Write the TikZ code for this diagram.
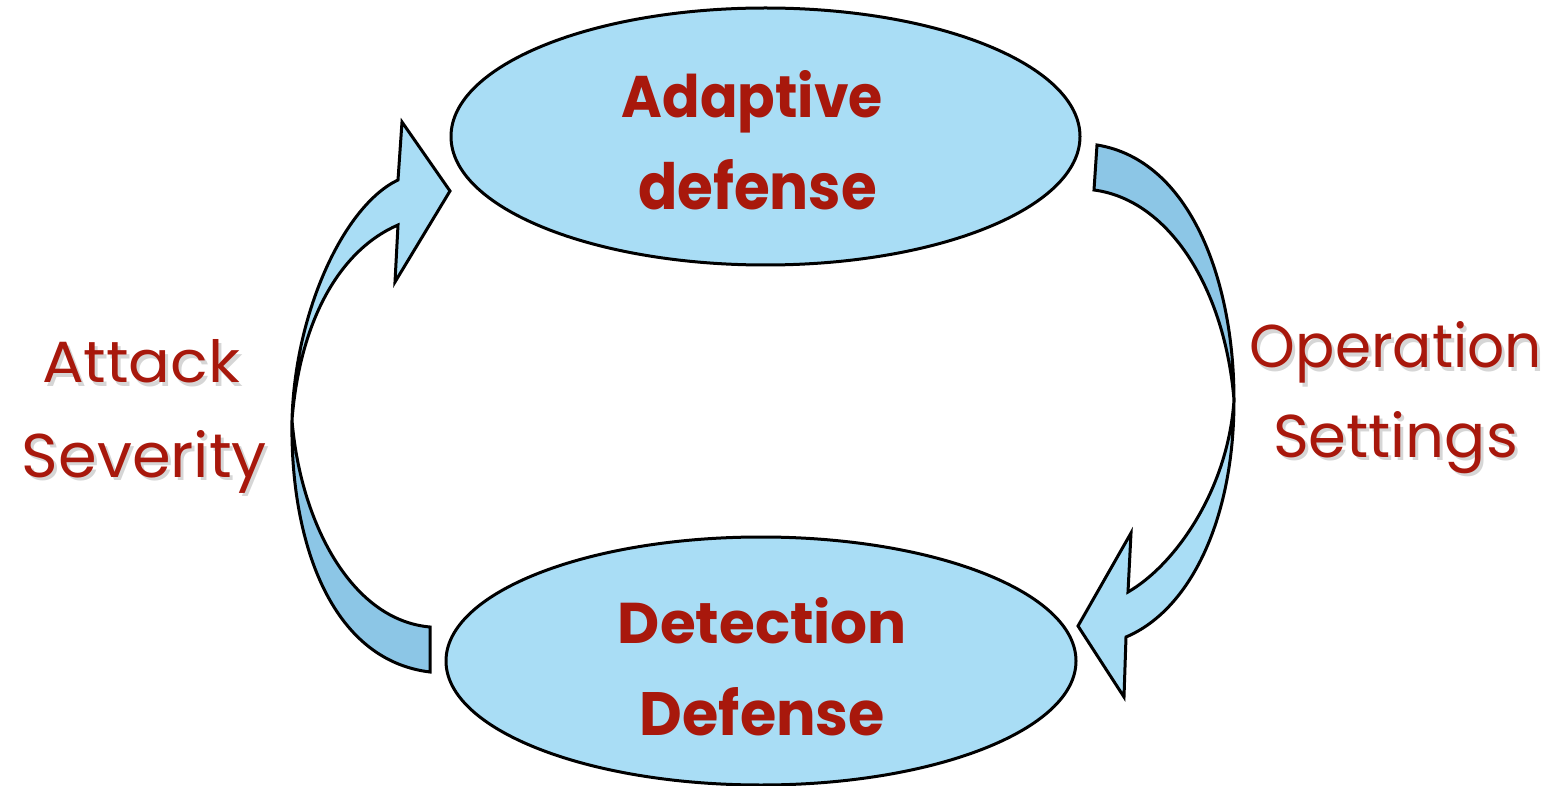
\documentclass[tikz,border=0pt]{standalone}
\usepackage{fontspec}
\setmainfont{Poppins}
\usepackage{graphicx}
\usetikzlibrary{shapes.geometric}
\definecolor{txtred}{HTML}{A8180C}
\definecolor{lightblue}{HTML}{A9DDF5}
\definecolor{darkblue}{HTML}{8CC6E6}
\definecolor{shadowgray}{HTML}{D6D6D6}
\newcommand{\fitword}[3]{\resizebox{#1pt}{#2pt}{#3}}
\begin{document}
\begin{tikzpicture}[x=1pt,y=-1pt,
  blob/.style={ellipse, draw=black, line width=3pt, fill=lightblue, inner sep=0pt},
  front/.style={draw=black, line width=3pt, fill=lightblue},
  back/.style={draw=black, line width=3pt, fill=darkblue},
  word/.style={anchor=base, inner sep=0pt, text=txtred},
  wordshadow/.style={anchor=base, inner sep=0pt, text=shadowgray}]
\useasboundingbox (0,0) rectangle (1556,786);

% ellipses
\node[blob, minimum width=629pt, minimum height=257pt] (adaptive) at (765.5,136.5) {};
\node[blob, minimum width=630pt, minimum height=248pt] (detection) at (761,661) {};

% left curved arrow (Attack Severity)
\path[back] (430,672) .. controls (330,660) and (290,540) .. (292,420)
  .. controls (300,520) and (350,620) .. (430,627) -- cycle;
\path[front] (292,420) .. controls (295,310) and (345,205) .. (398,180)
  -- (402,122) -- (450,191) -- (395,282) -- (398,225)
  .. controls (340,250) and (300,320) .. (292,420) -- cycle;

% right curved arrow (Operation Settings)
\path[back] (1097,145) .. controls (1190,160) and (1234,280) .. (1234,400)
  .. controls (1225,290) and (1170,200) .. (1094,190) -- cycle;
\path[front] (1234,400) .. controls (1234,520) and (1190,610) .. (1126,637)
  -- (1124,697) -- (1078,626) -- (1131,533) -- (1128,592)
  .. controls (1175,565) and (1228,490) .. (1234,400) -- cycle;

% ellipse texts
\node[word] (t1) at (752.5,118) {\fitword{261}{47}{\bfseries Adaptive}};
\node[word] (t2) at (757.5,210) {\fitword{239}{50}{\bfseries defense}};
\node[word] (t3) at (762.5,643) {\fitword{289}{46}{\bfseries Detection}};
\node[word] (t4) at (762.5,735) {\fitword{245}{48}{\bfseries Defense}};

% side labels with shadow
\node[wordshadow] (s1s) at (144,386) {\fitword{198}{43}{Attack}};
\node[word] (s1) at (141,383) {\fitword{198}{43}{Attack}};
\node[wordshadow] (s2s) at (147.5,480) {\fitword{245}{47}{Severity}};
\node[word] (s2) at (144.5,477) {\fitword{245}{47}{Severity}};
\node[wordshadow] (s3s) at (1399,371) {\fitword{292}{46}{Operation}};
\node[word] (s3) at (1396,368) {\fitword{292}{46}{Operation}};
\node[wordshadow] (s4s) at (1398.5,460) {\fitword{245}{46}{Settings}};
\node[word] (s4) at (1395.5,457) {\fitword{245}{46}{Settings}};
\end{tikzpicture}
\end{document}
